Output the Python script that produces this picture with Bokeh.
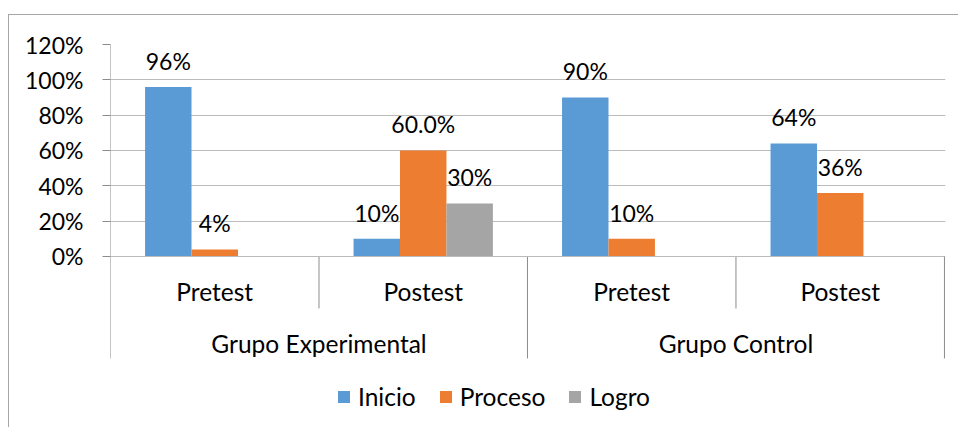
from bokeh.plotting import figure
from bokeh.models import (Range1d, ColumnDataSource, FixedTicker, PrintfTickFormatter,
                          Legend, LegendItem)
from bokeh.transform import dodge
from bokeh.embed import file_html
from bokeh.resources import INLINE
from bokeh.core.properties import value

# ---- data ----
groups = ["Grupo Experimental", "Grupo Control"]
subcats = ["Pretest", "Postest", "Pretest", "Postest"]
series = ["Inicio", "Proceso", "Logro"]
inicio = [96, 10, 90, 64]
proceso = [4, 60, 10, 36]
logro = [0, 30, 0, 0]
inicio_labels = ["96%", "10%", "90%", "64%"]
proceso_labels = ["4%", "60.0%", "10%", "36%"]
logro_labels = ["", "30%", "", ""]
y_ticks = [0, 20, 40, 60, 80, 100, 120]

colors = ["#5B9BD5", "#ED7D31", "#A5A5A5"]
FONT = "Lato"
FS_NUM = "23px"
FS_TXT = "24.5px"
AXIS_C = "#8c8c8c"
GRID_C = "#bcbcbc"

n = len(subcats)
centers = [i + 0.5 for i in range(n)]
bar_w = 0.2228
offsets = [-bar_w, 0.0, bar_w]
Y_TOP = 120
Y_BOT = -97.36
SUB_END = -29.4
GRP_END = -57.7

p = figure(width=950, height=413, x_range=Range1d(0, n + 0.005), y_range=Range1d(Y_BOT, Y_TOP),
           output_backend="svg", toolbar_location=None,
           min_border_left=101, min_border_right=14, min_border_top=29, min_border_bottom=0)
p.margin = (14, 0, 0, 8)
p.styles = {"border-left": "1px solid #a6a6a6", "border-top": "1px solid #a6a6a6"}
p.outline_line_color = None
p.background_fill_color = "white"
p.border_fill_color = "white"

# axes
p.xaxis.visible = False
p.xgrid.visible = False
p.yaxis.ticker = FixedTicker(ticks=y_ticks)
p.ygrid.ticker = FixedTicker(ticks=y_ticks)
p.yaxis.formatter = PrintfTickFormatter(format="%d%%")
p.yaxis.axis_line_color = None
p.yaxis.major_tick_line_color = AXIS_C
p.yaxis.major_tick_out = 8
p.yaxis.major_tick_in = 0
p.yaxis.minor_tick_line_color = None
p.yaxis.major_label_standoff = 19
p.yaxis.major_label_text_font = FONT
p.yaxis.major_label_text_font_size = FS_NUM
p.yaxis.major_label_text_color = "black"
p.ygrid.grid_line_color = GRID_C

# y axis line (from 0 to top)
p.segment(x0=[0], y0=[0], x1=[0], y1=[Y_TOP], line_color=AXIS_C, line_width=1)

# bars
vals = [inicio, proceso, logro]
labs = [inicio_labels, proceso_labels, logro_labels]
renderers = []
for s, v, lab, c, off in zip(series, vals, labs, colors, offsets):
    src = ColumnDataSource(dict(x=centers, top=v, label=lab))
    r = p.vbar(x=dodge("x", off, range=p.x_range), top="top", width=bar_w, bottom=0,
               source=src, fill_color=c, line_color=None)
    renderers.append((s, r))
    p.text(x=dodge("x", off, range=p.x_range), y="top", text="label", source=src,
           text_align="center", text_baseline="middle", y_offset=-26,
           text_font=value(FONT), text_font_size=FS_NUM, text_color="black")

# category axis (two levels) drawn from the category lists
sub_src = ColumnDataSource(dict(x=centers, y=[-19.8] * n, t=subcats))
p.text(x="x", y="y", text="t", source=sub_src, text_align="center", text_baseline="middle",
       text_font=value(FONT), text_font_size=FS_TXT, text_color="black")
gcenters = [1.0 + 2 * i for i in range(len(groups))]
grp_src = ColumnDataSource(dict(x=gcenters, y=[-49.2] * len(groups), t=groups))
p.text(x="x", y="y", text="t", source=grp_src, text_align="center", text_baseline="middle",
       text_font=value(FONT), text_font_size=FS_TXT, text_color="black")

bounds = list(range(n + 1))
ends = [GRP_END if b % 2 == 0 else SUB_END for b in bounds]
p.segment(x0=bounds, y0=[0] * len(bounds), x1=bounds, y1=ends, line_color=AXIS_C, line_width=1)
p.segment(x0=[0], y0=[0], x1=[n], y1=[0], line_color=GRID_C, line_width=1)

legend = Legend(items=[LegendItem(label=s, renderers=[r]) for s, r in renderers],
                orientation="horizontal", location=(226, 17),
                glyph_width=15, glyph_height=15, label_height=20, label_standoff=7,
                spacing=22, padding=0, margin=0,
                label_text_font=FONT, label_text_font_size=FS_TXT, label_text_color="black",
                border_line_color=None, background_fill_alpha=0)
p.add_layout(legend, "center")

open("out.html", "w").write(file_html(p, INLINE))
